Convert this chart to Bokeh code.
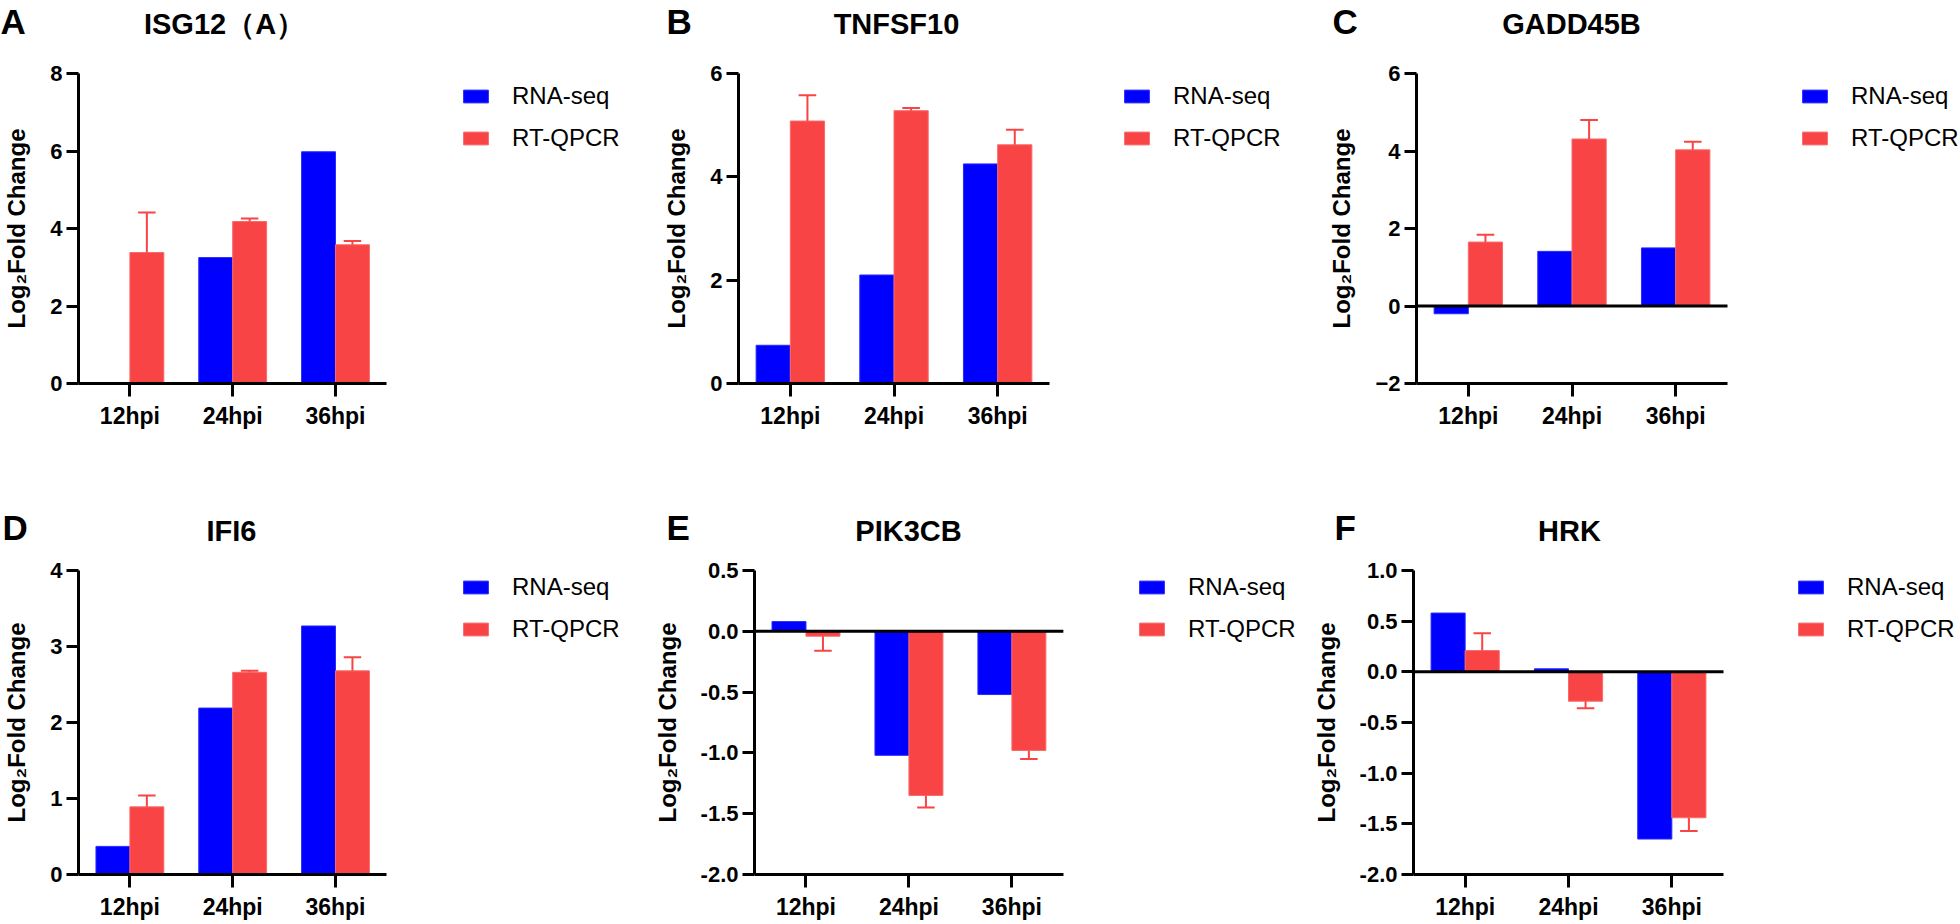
from bokeh.plotting import figure
from bokeh.layouts import column, row
from bokeh.models import (ColumnDataSource, Range1d, FixedTicker,
                          NumeralTickFormatter, Legend, LegendItem, Label)
from bokeh.transform import dodge
from bokeh.embed import file_html
from bokeh.resources import INLINE

# ---------------- data ----------------
categories = ["12hpi", "24hpi", "36hpi"]
legend_labels = ["RNA-seq", "RT-QPCR"]
gene_titles = ["ISG12（A）", "TNFSF10", "GADD45B", "IFI6", "PIK3CB", "HRK"]
panel_letters = ["A", "B", "C", "D", "E", "F"]
y_axis_title = "Log₂Fold Change"

isg12_rnaseq = [0.0, 3.25, 5.98]
isg12_qpcr = [3.38, 4.18, 3.58]
isg12_qpcr_err = [1.03, 0.08, 0.10]

tnfsf10_rnaseq = [0.74, 2.10, 4.25]
tnfsf10_qpcr = [5.08, 5.28, 4.62]
tnfsf10_qpcr_err = [0.50, 0.05, 0.29]

gadd45b_rnaseq = [-0.20, 1.41, 1.50]
gadd45b_qpcr = [1.65, 4.31, 4.03]
gadd45b_qpcr_err = [0.19, 0.49, 0.21]

ifi6_rnaseq = [0.37, 2.19, 3.27]
ifi6_qpcr = [0.89, 2.66, 2.68]
ifi6_qpcr_err = [0.15, 0.02, 0.18]

pik3cb_rnaseq = [0.08, -1.02, -0.52]
pik3cb_qpcr = [-0.04, -1.35, -0.98]
pik3cb_qpcr_err = [0.12, 0.10, 0.07]

hrk_rnaseq = [0.58, 0.03, -1.65]
hrk_qpcr = [0.21, -0.29, -1.44]
hrk_qpcr_err = [0.17, 0.07, 0.13]

y_range_a, y_ticks_a = (0, 8), [0, 2, 4, 6, 8]
y_range_b, y_ticks_b = (0, 6), [0, 2, 4, 6]
y_range_c, y_ticks_c = (-2, 6), [-2, 0, 2, 4, 6]
y_range_d, y_ticks_d = (0, 4), [0, 1, 2, 3, 4]
y_range_e, y_ticks_e = (-2.0, 0.5), [-2.0, -1.5, -1.0, -0.5, 0.0, 0.5]
y_range_f, y_ticks_f = (-2.0, 1.0), [-2.0, -1.5, -1.0, -0.5, 0.0, 0.5, 1.0]

# ---------------- style ----------------
BLUE = "#0000FF"
RED = "#F84444"
FONT = "Liberation Sans"
BAR_W = 0.33
OFF = 0.165
CAP = 0.085


def make_header(w, h, letter, letter_x, letter_y, title, title_x, title_y):
    p = figure(width=w, height=h, x_range=Range1d(0, w), y_range=Range1d(0, h),
               x_axis_type=None, y_axis_type=None, min_border=0,
               output_backend="svg", toolbar_location=None, tools="")
    p.outline_line_color = None
    p.grid.visible = False
    p.add_layout(Label(x=letter_x, y=letter_y, text=letter, text_align="left",
                       text_baseline="middle", text_font=FONT, text_font_style="bold",
                       text_font_size="35px", text_color="black"))
    p.add_layout(Label(x=title_x, y=title_y, text=title, text_align="center",
                       text_baseline="middle", text_font=FONT, text_font_style="bold",
                       text_font_size="29px", text_color="black"))
    return p


def make_panel(rna, qpcr, err, yr, yticks, one_decimal, w, h, bl, bt, bb, plot_w, zero_line):
    n = len(categories)
    fh = h - bt - bb
    unit = plot_w / n                      # pixels per category
    x_end = (w - bl) / unit                # frame continues to the right to host the legend
    p = figure(x_range=Range1d(0, x_end), y_range=Range1d(*yr),
               width=w, height=h, min_border_left=bl, min_border_right=0,
               min_border_top=bt, min_border_bottom=bb,
               output_backend="svg", toolbar_location=None, tools="")
    p.outline_line_color = None
    p.xgrid.visible = False
    p.ygrid.visible = False

    xpos = [i + 0.5 for i in range(n)]
    sign = [1 if q >= 0 else -1 for q in qpcr]
    err_end = [q + s * e for q, s, e in zip(qpcr, sign, err)]
    src = ColumnDataSource(dict(x=xpos, cat=categories, rna=rna, qpcr=qpcr, err_end=err_end))

    rb = p.vbar(x=dodge("x", -OFF), top="rna", bottom=0, width=BAR_W,
                source=src, fill_color=BLUE, line_color="#2a2aff", line_width=1)
    rr = p.vbar(x=dodge("x", OFF), top="qpcr", bottom=0, width=BAR_W,
                source=src, fill_color=RED, line_color="#f86a6a", line_width=1)
    p.segment(x0=dodge("x", OFF), x1=dodge("x", OFF),
              y0="qpcr", y1="err_end", source=src, line_color=RED, line_width=2)
    p.segment(x0=dodge("x", OFF - CAP), x1=dodge("x", OFF + CAP),
              y0="err_end", y1="err_end", source=src, line_color=RED, line_width=2)

    if zero_line:
        p.segment(x0=[0], x1=[n], y0=[0], y1=[0], line_color="black", line_width=3)

    for ax in (p.xaxis[0], p.yaxis[0]):
        ax.axis_line_width = 3
        ax.axis_line_color = "black"
        ax.major_tick_line_width = 3
        ax.major_tick_line_color = "black"
        ax.major_tick_in = 0
        ax.minor_tick_line_color = None
        ax.major_label_text_font = FONT
        ax.major_label_text_font_style = "bold"
        ax.major_label_text_font_size = "22px"
        ax.major_label_text_color = "black"
    p.xaxis.major_label_text_font_size = "23px"
    p.xaxis.bounds = (0, n)
    p.xaxis.ticker = FixedTicker(ticks=xpos, minor_ticks=[])
    overrides = {}
    for xv, c in zip(xpos, categories):
        overrides[xv] = c
        overrides[str(xv)] = c
    p.xaxis.major_label_overrides = overrides
    p.xaxis.major_tick_out = 13
    p.xaxis.major_label_standoff = 6
    p.yaxis.major_tick_out = 12
    p.yaxis.major_label_standoff = 4
    p.yaxis.ticker = FixedTicker(ticks=yticks, minor_ticks=[])
    if one_decimal:
        p.yaxis.formatter = NumeralTickFormatter(format="0.0")
    p.yaxis.axis_label = y_axis_title
    p.yaxis.axis_label_text_font = FONT
    p.yaxis.axis_label_text_font_style = "bold"
    p.yaxis.axis_label_text_font_size = "24px"
    p.yaxis.axis_label_text_color = "black"
    p.yaxis.axis_label_standoff = 17

    legend = Legend(items=[LegendItem(label=legend_labels[0], renderers=[rb]),
                           LegendItem(label=legend_labels[1], renderers=[rr])],
                    location=(plot_w + 72, fh - 79), glyph_width=31, glyph_height=16,
                    label_text_font=FONT, label_text_font_size="24px", label_text_color="black",
                    label_standoff=21, spacing=14, padding=0, margin=0,
                    border_line_color=None, background_fill_alpha=0)
    p.add_layout(legend)
    return p


# column widths 650 / 650 / 658 ; row 1: header 50 + panels 400 ; row 2: header 98 + panels 374
hA = make_header(650, 50, panel_letters[0], 0, 29, gene_titles[0], 224, 27)
hB = make_header(650, 50, panel_letters[1], 16, 29, gene_titles[1], 246, 27)
hC = make_header(658, 50, panel_letters[2], 32, 29, gene_titles[2], 271, 27)
hD = make_header(650, 98, panel_letters[3], 2, 21, gene_titles[3], 231, 18)
hE = make_header(650, 98, panel_letters[4], 16, 21, gene_titles[4], 258, 18)
hF = make_header(658, 98, panel_letters[5], 34, 21, gene_titles[5], 269, 18)

pA = make_panel(isg12_rnaseq, isg12_qpcr, isg12_qpcr_err, y_range_a, y_ticks_a, False,
                650, 400, 75, 23, 67, 310, False)
pB = make_panel(tnfsf10_rnaseq, tnfsf10_qpcr, tnfsf10_qpcr_err, y_range_b, y_ticks_b, False,
                650, 400, 88, 23, 67, 311, False)
pC = make_panel(gadd45b_rnaseq, gadd45b_qpcr, gadd45b_qpcr_err, y_range_c, y_ticks_c, False,
                658, 400, 116, 23, 67, 311, True)
pD = make_panel(ifi6_rnaseq, ifi6_qpcr, ifi6_qpcr_err, y_range_d, y_ticks_d, False,
                650, 374, 75, 22, 42, 310, False)
pE = make_panel(pik3cb_rnaseq, pik3cb_qpcr, pik3cb_qpcr_err, y_range_e, y_ticks_e, True,
                650, 374, 102, 22, 42, 310, True)
pF = make_panel(hrk_rnaseq, hrk_qpcr, hrk_qpcr_err, y_range_f, y_ticks_f, True,
                658, 374, 113, 22, 42, 310, True)

layout = column(row(hA, hB, hC), row(pA, pB, pC), row(hD, hE, hF), row(pD, pE, pF))

open("out.html", "w").write(file_html(layout, INLINE))
